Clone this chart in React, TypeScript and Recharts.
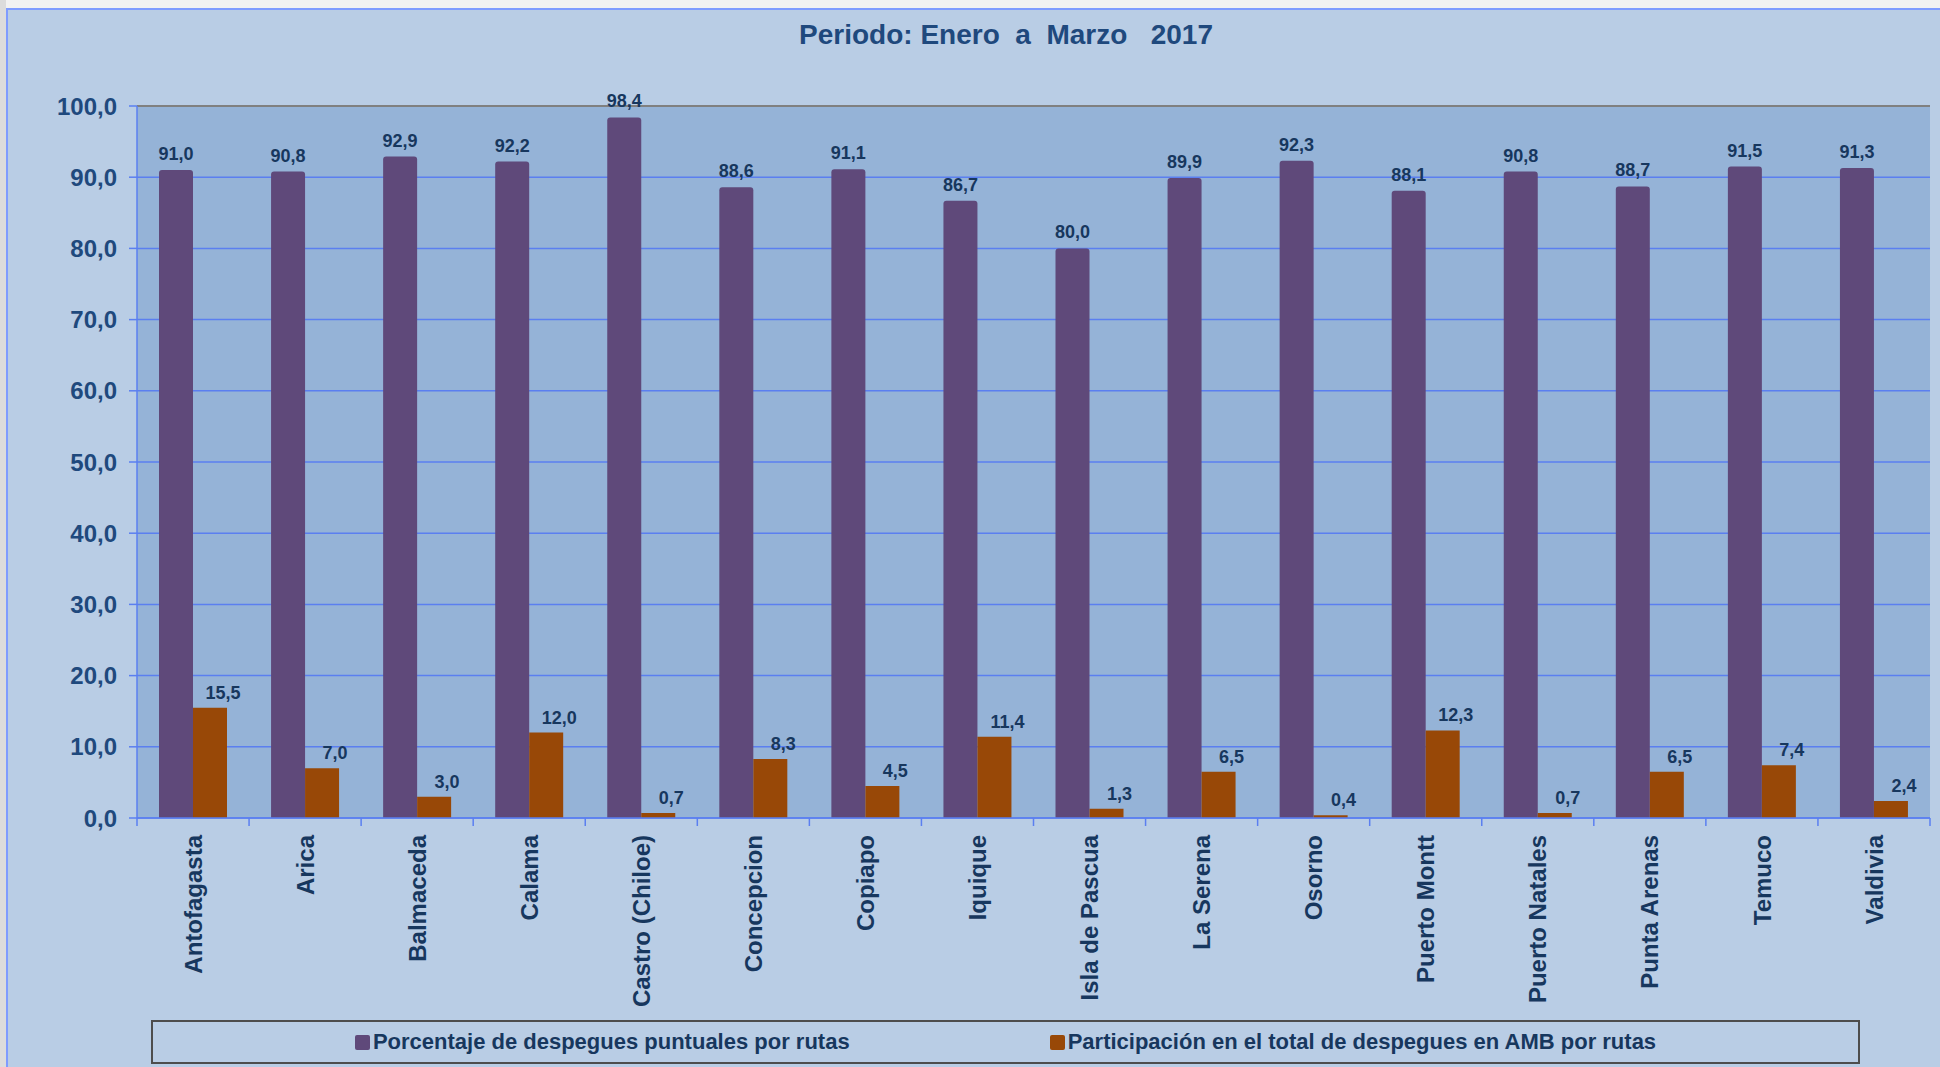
import React from 'react';
import {
  BarChart,
  Bar,
  XAxis,
  YAxis,
  CartesianGrid,
  LabelList,
  Legend,
  ReferenceLine,
} from 'recharts';

const categories = [
  'Antofagasta',
  'Arica',
  'Balmaceda',
  'Calama',
  'Castro (Chiloe)',
  'Concepcion',
  'Copiapo',
  'Iquique',
  'Isla de Pascua',
  'La Serena',
  'Osorno',
  'Puerto Montt',
  'Puerto Natales',
  'Punta Arenas',
  'Temuco',
  'Valdivia',
];

const puntuales = [91.0, 90.8, 92.9, 92.2, 98.4, 88.6, 91.1, 86.7, 80.0, 89.9, 92.3, 88.1, 90.8, 88.7, 91.5, 91.3];
const participacion = [15.5, 7.0, 3.0, 12.0, 0.7, 8.3, 4.5, 11.4, 1.3, 6.5, 0.4, 12.3, 0.7, 6.5, 7.4, 2.4];

const yTicks = [0, 10, 20, 30, 40, 50, 60, 70, 80, 90, 100];

const seriesNames = {
  puntuales: 'Porcentaje de despegues puntuales por rutas',
  participacion: 'Participación en el total de despegues en AMB por rutas',
};

const title = 'Periodo: Enero  a  Marzo   2017';

const data = categories.map((name, i) => ({
  name,
  puntuales: puntuales[i],
  participacion: participacion[i],
}));

const FONT = '"Liberation Sans", Arial, sans-serif';
const PURPLE = '#5f497a';
const ORANGE = '#984807';
const GRID = '#5b7ff0';
const NAVY = '#17375e';
const AXIS_TEXT = '#1f497d';

const fmt = (v: number) => v.toFixed(1).replace('.', ',');

function CategoryTick(props: any) {
  const { x, y, payload, index } = props;
  const half = payload.offset ?? 56;
  const axisY = y - 16;
  const last = index === categories.length - 1;
  return (
    <g>
      <line x1={x - half} x2={x - half} y1={axisY} y2={axisY + 8} stroke={GRID} strokeWidth={1.5} />
      {last && <line x1={x + half} x2={x + half} y1={axisY} y2={axisY + 8} stroke={GRID} strokeWidth={1.5} />}
      <text
        x={x}
        y={y + 1}
        transform={`rotate(-90, ${x}, ${y + 1})`}
        textAnchor="end"
        dy="0.36em"
        fill={NAVY}
        fontFamily={FONT}
        fontWeight="bold"
        fontSize={24}
      >
        {payload.value}
      </text>
    </g>
  );
}

function OrangeLabel(props: any) {
  const { x, y, width, value } = props;
  return (
    <text
      x={x + width / 2 + 13}
      y={y - 9}
      textAnchor="middle"
      fill={NAVY}
      fontFamily={FONT}
      fontWeight="bold"
      fontSize={18}
    >
      {fmt(value)}
    </text>
  );
}

function LegendBox() {
  const item = (color: string, label: string) => (
    <div style={{ display: 'flex', alignItems: 'center' }}>
      <span style={{ width: 15, height: 15, background: color, borderRadius: 2, marginRight: 3 }} />
      <span>{label}</span>
    </div>
  );
  return (
    <div
      style={{
        boxSizing: 'border-box',
        width: 1709,
        height: 44,
        border: '2px solid #4d4d4d',
        display: 'flex',
        alignItems: 'center',
        justifyContent: 'center',
        gap: 200,
        fontFamily: FONT,
        fontWeight: 'bold',
        fontSize: 22,
        color: NAVY,
      }}
    >
      {item(PURPLE, seriesNames.puntuales)}
      {item(ORANGE, seriesNames.participacion)}
    </div>
  );
}

export default function App() {
  return (
    <div style={{ position: 'fixed', left: 0, top: 0, width: 1940, height: 1067, background: '#f2f2f2', overflow: 'hidden' }}>
      <div style={{ position: 'absolute', left: 0, top: 0, width: 6, height: 1067, background: '#dcdcdc' }} />
      <div
        style={{
          position: 'absolute',
          left: 6,
          top: 8,
          width: 1960,
          height: 1080,
          background: '#b9cde5',
          borderTop: '2px solid #7f9cff',
          borderLeft: '2px solid #7f9cff',
        }}
      />
      <div
        style={{
          position: 'absolute',
          left: 1006,
          top: 21,
          transform: 'translateX(-50%)',
          whiteSpace: 'pre',
          fontFamily: FONT,
          fontWeight: 'bold',
          fontSize: 28,
          lineHeight: '28px',
          color: AXIS_TEXT,
        }}
      >
        {title}
      </div>
      <div style={{ position: 'absolute', left: 0, top: 0 }}>
        <BarChart
          width={1940}
          height={1067}
          data={data}
          margin={{ top: 106, right: 10, left: 37, bottom: 49 }}
          barSize={34}
          barGap={0}
        >
          <CartesianGrid vertical={false} stroke={GRID} strokeWidth={1.5} fill="#95b3d7" fillOpacity={1} />
          <XAxis
            dataKey="name"
            interval={0}
            height={200}
            tickSize={8}
            tickMargin={8}
            tickLine={false}
            axisLine={{ stroke: GRID, strokeWidth: 1.5 }}
            tick={<CategoryTick />}
          />
          <YAxis
            domain={[0, 100]}
            ticks={yTicks}
            width={100}
            tickSize={8}
            tickMargin={12}
            tickFormatter={fmt}
            tickLine={{ stroke: GRID, strokeWidth: 1.5 }}
            axisLine={{ stroke: GRID, strokeWidth: 1.5 }}
            tick={{ fill: AXIS_TEXT, fontFamily: FONT, fontWeight: 'bold', fontSize: 24 }}
          />
          <YAxis
            yAxisId="right"
            orientation="right"
            domain={[0, 100]}
            width={0}
            tick={false}
            tickLine={false}
            axisLine={{ stroke: '#808080', strokeWidth: 2 }}
          />
          <ReferenceLine y={100} stroke="#808080" strokeWidth={2} />
          <Legend
            layout="horizontal"
            verticalAlign="middle"
            align="center"
            wrapperStyle={{ left: 151, top: 1020, width: 1709, height: 44 }}
            content={<LegendBox />}
          />
          <Bar dataKey="puntuales" name={seriesNames.puntuales} fill={PURPLE} radius={[3, 3, 0, 0]} isAnimationActive={false}>
            <LabelList
              dataKey="puntuales"
              position="top"
              offset={10}
              formatter={(v: any) => fmt(Number(v))}
              style={{ fill: NAVY, fontFamily: FONT, fontWeight: 'bold', fontSize: 18 }}
            />
          </Bar>
          <Bar dataKey="participacion" name={seriesNames.participacion} fill={ORANGE} isAnimationActive={false}>
            <LabelList dataKey="participacion" content={<OrangeLabel />} />
          </Bar>
        </BarChart>
      </div>
    </div>
  );
}
